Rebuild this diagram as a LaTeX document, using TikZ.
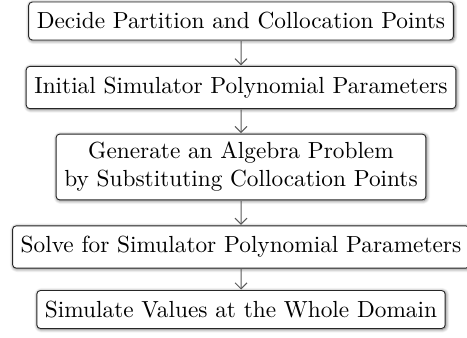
\documentclass[tikz,border=0pt]{standalone}
\usetikzlibrary{shadows.blur,arrows.meta}
\begin{document}
\begin{tikzpicture}[x=1pt,y=-1pt,
  stepbox/.style={draw=black!85, line width=0.9pt, fill=white, rounded corners=3.5pt,
    inner xsep=3.5pt, inner ysep=4.5pt, align=center, scale=2.33,
    blur shadow={shadow xshift=0.8pt, shadow yshift=-0.8pt, shadow blur radius=3.5pt, shadow blur steps=10, shadow opacity=60}},
  link/.style={draw=black!65, line width=1pt, -{Straight Barb[length=6pt,width=12pt,line width=1pt]}}]
\useasboundingbox (0,0) rectangle (467,338);
\node[stepbox] (b1) at (241,21) {Decide Partition and Collocation Points};
\node[stepbox] (b2) at (241,87.5) {Initial Simulator Polynomial Parameters};
\node[stepbox, inner ysep=3.5pt] (b3) at (241,167) {Generate an Algebra Problem\\by Substituting Collocation Points};
\node[stepbox] (b4) at (241,247) {Solve for Simulator Polynomial Parameters};
\node[stepbox] (b5) at (241,309.5) {Simulate Values at the Whole Domain};
\draw[link] (b1) -- (b2);
\draw[link] (b2) -- (b3);
\draw[link] (b3) -- (b4);
\draw[link] (b4) -- (b5);
\end{tikzpicture}
\end{document}
